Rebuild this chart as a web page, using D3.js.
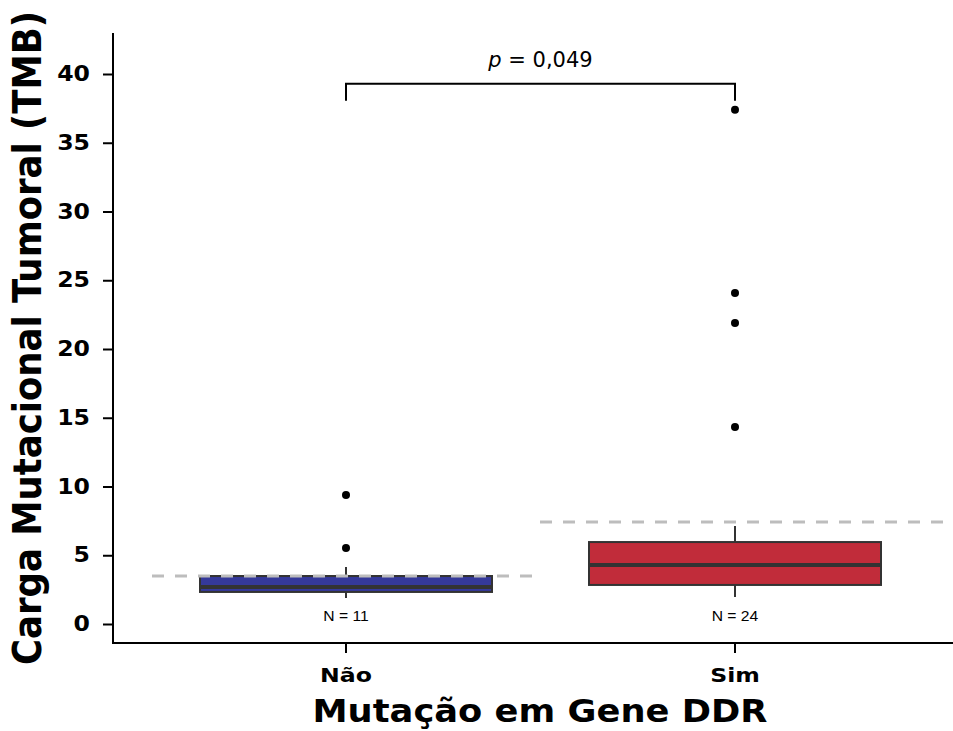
<!DOCTYPE html>
<html>
<head>
<meta charset="utf-8">
<script src="https://cdn.jsdelivr.net/npm/d3@7"></script>
<style>
  body { margin: 0; background: #fff; }
  text { font-family: "DejaVu Sans", sans-serif; }
</style>
</head>
<body>
<svg id="viz" width="953" height="731"></svg>
<script>
var categories = ['Não', 'Sim']
var counts = [11, 24]
var colors = ['#35399a', '#c12c3a']
// box stats: [lowWhisker, q1, median, q3, highWhisker]
var boxStats = [
  [1.9, 2.33, 2.7, 3.49, 4.15],
  [1.96, 2.84, 4.29, 5.96, 7.13]
]
var outliers = [
  [9.38, 5.53],
  [37.4, 24.07, 21.9, 14.33]
]
var means = [3.49, 7.42]
var yTicks = [0, 5, 10, 15, 20, 25, 30, 35, 40]
var pLabel = '0,049'

var width = 953, height = 731
var margin = {left: 113, right: 0, top: 33, bottom: 88}

// the reference text is a bit wider than the font, stretch it horizontally
function stretch(sel, k) {
  sel.attr('transform', function() {
    var t = d3.select(this)
    var x0 = +t.attr('x') || 0, y0 = +t.attr('y') || 0
    return `translate(${x0},${y0}) scale(${k},1) translate(${-x0},${-y0})`
  })
}

var svg = d3.select('svg#viz')

var y = d3.scaleLinear()
    .domain([0, 40])
    .range([624, 74])

var x = d3.scalePoint()
    .domain(categories)
    .range([346, 735])

var boxW = 292

// axes
svg.append('g')
    .attr('transform', `translate(${margin.left},0)`)
    .call(d3.axisLeft(y).tickValues(yTicks).tickSize(10).tickPadding(10))
    .call(g => g.select('.domain').remove())
    .call(g => g.selectAll('line').attr('stroke', '#000').attr('stroke-width', 2))
    .call(g => g.selectAll('text').attr('font-size', 20.5).attr('font-weight', 'bold').attr('fill', '#000')
        .attr('x', -20).attr('transform', 'scale(1.15,1)'))

svg.append('line')
    .attr('x1', margin.left).attr('x2', margin.left)
    .attr('y1', margin.top).attr('y2', height - margin.bottom + 1)
    .attr('stroke', '#000').attr('stroke-width', 2)

svg.append('line')
    .attr('x1', margin.left - 1).attr('x2', width)
    .attr('y1', height - margin.bottom).attr('y2', height - margin.bottom)
    .attr('stroke', '#000').attr('stroke-width', 2)

svg.append('g')
    .selectAll('line')
    .data(categories)
    .join('line')
      .attr('x1', d => x(d)).attr('x2', d => x(d))
      .attr('y1', 643).attr('y2', 653)
      .attr('stroke', '#000').attr('stroke-width', 2)

svg.append('g')
    .selectAll('text')
    .data(categories)
    .join('text')
      .attr('x', d => x(d))
      .attr('y', 682)
      .attr('text-anchor', 'middle')
      .attr('font-size', 20)
      .attr('font-weight', 'bold')
      .text(d => d)
      .call(stretch, 1.18)

// titles
svg.append('text')
    .attr('x', 540).attr('y', 722)
    .attr('text-anchor', 'middle')
    .attr('font-size', 31.5).attr('font-weight', 'bold')
    .text('Mutação em Gene DDR')
    .call(stretch, 1.12)

svg.append('text')
    .attr('transform', 'translate(41,338) scale(1.12,1) rotate(-90)')
    .attr('text-anchor', 'middle')
    .attr('font-size', 35.5).attr('font-weight', 'bold')
    .text('Carga Mutacional Tumoral (TMB)')

// boxes
var box = svg.append('g')
    .selectAll('g')
    .data(categories)
    .join('g')

box.append('line')
    .attr('x1', d => x(d)).attr('x2', d => x(d))
    .attr('y1', (d, i) => y(boxStats[i][0])).attr('y2', (d, i) => y(boxStats[i][4]))
    .attr('stroke', '#333').attr('stroke-width', 2)

box.append('rect')
    .attr('x', d => x(d) - boxW / 2)
    .attr('width', boxW)
    .attr('y', (d, i) => y(boxStats[i][3]))
    .attr('height', (d, i) => y(boxStats[i][1]) - y(boxStats[i][3]))
    .attr('fill', (d, i) => colors[i])
    .attr('stroke', '#333').attr('stroke-width', 2)

box.append('line')
    .attr('x1', d => x(d) - boxW / 2).attr('x2', d => x(d) + boxW / 2)
    .attr('y1', (d, i) => y(boxStats[i][2])).attr('y2', (d, i) => y(boxStats[i][2]))
    .attr('stroke', '#333').attr('stroke-width', 4)

// outliers
box.each(function(d, i) {
  d3.select(this).selectAll('circle')
    .data(outliers[i])
    .join('circle')
      .attr('cx', x(d))
      .attr('cy', v => y(v))
      .attr('r', 4)
      .attr('fill', '#000')
})

// mean dashed lines
var mx = [[152, 540], [540, 953]]
svg.append('g')
    .selectAll('line')
    .data(means)
    .join('line')
      .attr('x1', (d, i) => mx[i][0]).attr('x2', (d, i) => mx[i][1])
      .attr('y1', d => y(d)).attr('y2', d => y(d))
      .attr('stroke', '#bdbdbd').attr('stroke-width', 3)
      .attr('stroke-dasharray', '12,11')

// N labels
svg.append('g')
    .selectAll('text')
    .data(categories)
    .join('text')
      .attr('x', d => x(d))
      .attr('y', 621)
      .attr('text-anchor', 'middle')
      .attr('font-size', 14)
      .style('font-family', '"Liberation Sans", Arial, sans-serif')
      .text((d, i) => `N = ${counts[i]}`)
      .call(stretch, 1.12)

// significance bracket
var yb = y(39.3), yb2 = y(38.05)
svg.append('path')
    .attr('d', `M${x('Não')},${yb2}V${yb}H${x('Sim')}V${yb2}`)
    .attr('fill', 'none')
    .attr('stroke', '#000').attr('stroke-width', 2)

var pt = svg.append('text')
    .attr('x', (x('Não') + x('Sim')) / 2)
    .attr('y', 67)
    .attr('text-anchor', 'middle')
    .attr('font-size', 21)
pt.append('tspan').attr('font-style', 'italic').text('p')
pt.append('tspan').text(' = ' + pLabel)
</script>
</body>
</html>
